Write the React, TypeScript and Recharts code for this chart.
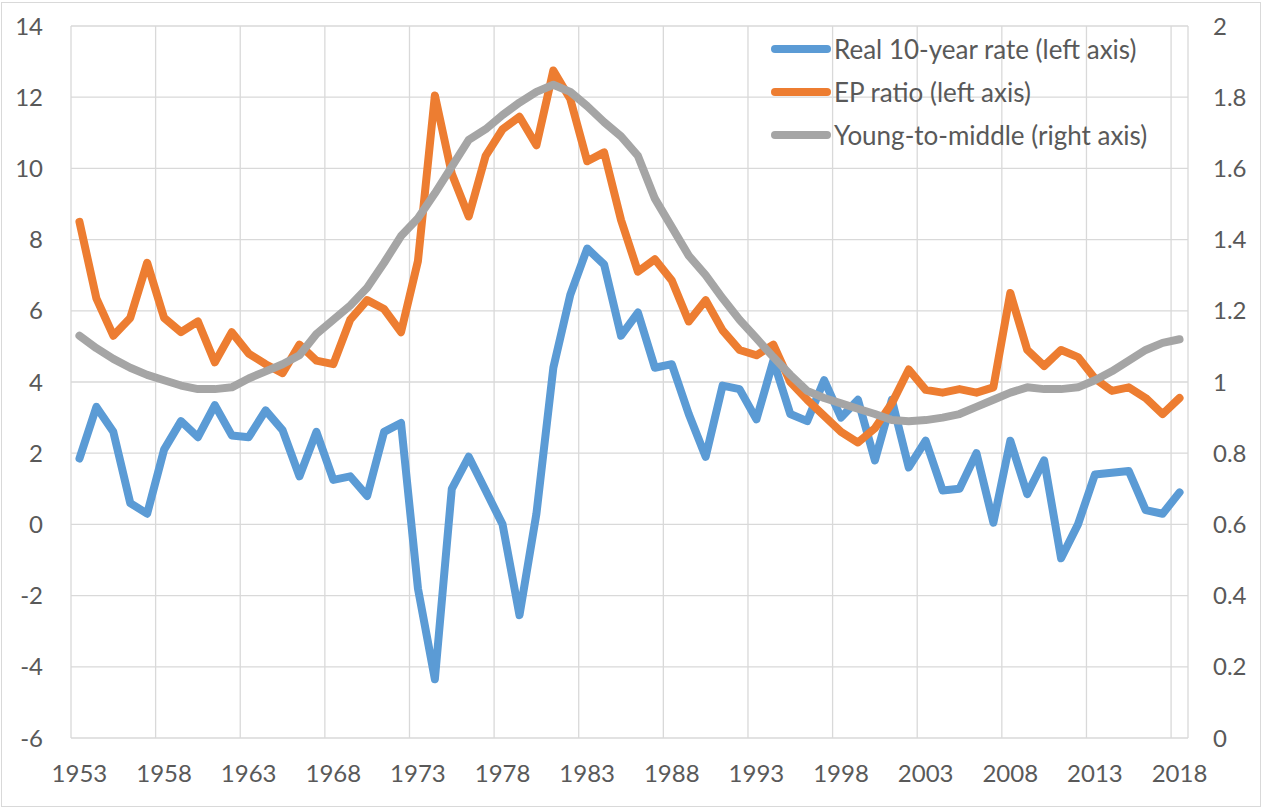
import { LineChart, Line, XAxis, YAxis, CartesianGrid, Legend } from 'recharts';

// annual values, 1953-2018
const years = Array.from({ length: 66 }, (_, i) => 1953 + i);

const realRate = [
  1.85, 3.3, 2.6, 0.6, 0.3, 2.1, 2.9, 2.45, 3.35, 2.5,
  2.45, 3.2, 2.65, 1.35, 2.6, 1.25, 1.35, 0.8, 2.6, 2.85,
  -1.8, -4.35, 1.0, 1.9, 0.95, 0.0, -2.55, 0.3, 4.4, 6.45,
  7.75, 7.3, 5.3, 5.95, 4.4, 4.5, 3.1, 1.9, 3.9, 3.8,
  2.95, 4.6, 3.1, 2.9, 4.05, 3.0, 3.5, 1.8, 3.5, 1.6,
  2.35, 0.95, 1.0, 2.0, 0.05, 2.35, 0.85, 1.8, -0.95, 0.0,
  1.4, 1.45, 1.5, 0.4, 0.3, 0.9,
];

const epRatio = [
  8.5, 6.35, 5.3, 5.8, 7.35, 5.8, 5.4, 5.7, 4.55, 5.4,
  4.8, 4.5, 4.25, 5.05, 4.6, 4.5, 5.75, 6.3, 6.05, 5.4,
  7.4, 12.05, 9.85, 8.65, 10.35, 11.1, 11.45, 10.65, 12.75, 11.95,
  10.2, 10.45, 8.55, 7.1, 7.45, 6.85, 5.7, 6.3, 5.45, 4.9,
  4.75, 5.05, 4.0, 3.5, 3.05, 2.6, 2.3, 2.7, 3.4, 4.35,
  3.78, 3.7, 3.8, 3.7, 3.85, 6.5, 4.9, 4.45, 4.9, 4.7,
  4.1, 3.75, 3.85, 3.55, 3.1, 3.55,
];

const youngToMiddle = [
  1.13, 1.095, 1.065, 1.04, 1.02, 1.005, 0.99, 0.98, 0.98, 0.985,
  1.01, 1.03, 1.05, 1.075, 1.135, 1.175, 1.215, 1.265, 1.335, 1.41,
  1.46, 1.53, 1.605, 1.68, 1.71, 1.75, 1.785, 1.815, 1.835, 1.815,
  1.775, 1.73, 1.69, 1.635, 1.515, 1.435, 1.355, 1.3, 1.235, 1.175,
  1.123, 1.07, 1.02, 0.975, 0.955, 0.94, 0.925, 0.91, 0.893, 0.89,
  0.893, 0.9, 0.91, 0.93, 0.95, 0.97, 0.985, 0.98, 0.98, 0.985,
  1.005, 1.03, 1.06, 1.09, 1.11, 1.12,
];

const seriesNames = ['Real 10-year rate (left axis)', 'EP ratio (left axis)', 'Young-to-middle (right axis)'];
const yearLabels = [1953, 1958, 1963, 1968, 1973, 1978, 1983, 1988, 1993, 1998, 2003, 2008, 2013, 2018];
const gridYears = yearLabels.map((y) => y - 0.5);
const leftTicks = [-6, -4, -2, 0, 2, 4, 6, 8, 10, 12, 14];
const rightTicks = [0, 0.2, 0.4, 0.6, 0.8, 1, 1.2, 1.4, 1.6, 1.8, 2];

const data = years.map((year, i) => ({
  year,
  real: realRate[i],
  ep: epRatio[i],
  ytm: youngToMiddle[i],
}));

const FONT = 'Lato, "Noto Sans", sans-serif';
const TEXT = '#595959';
const GRID = '#d9d9d9';

const tickStyle = { fill: TEXT, fontSize: 24, fontFamily: FONT };

function LegendBox(props: any) {
  const items = [...(props.payload || [])].sort(
    (a: any, b: any) => seriesNames.indexOf(a.value) - seriesNames.indexOf(b.value)
  );
  return (
    <div>
      {items.map((entry: any) => (
        <div key={entry.value} style={{ display: 'flex', alignItems: 'center', height: 43 }}>
          <svg width={60} height={12} style={{ display: 'block' }}>
            <line x1={4} y1={6} x2={56} y2={6} stroke={entry.color} strokeWidth={8} strokeLinecap="round" />
          </svg>
          <span style={{ marginLeft: 3, color: TEXT, fontSize: 26, fontFamily: FONT, whiteSpace: 'nowrap' }}>
            {entry.value}
          </span>
        </div>
      ))}
    </div>
  );
}

export default function App() {
  return (
    <div style={{ position: 'absolute', left: 0, top: 0, width: 1264, height: 808, background: '#fff' }}>
      <div
        style={{
          position: 'absolute',
          left: 1,
          top: 2,
          width: 1260,
          height: 805,
          border: `1px solid ${GRID}`,
          boxSizing: 'border-box',
        }}
      />
      <LineChart width={1264} height={808} data={data} margin={{ top: 26, right: 0, bottom: 0, left: 0 }}>
        <XAxis
          xAxisId="grid"
          type="number"
          dataKey="year"
          domain={[1952.5, 2018.5]}
          ticks={gridYears}
          interval={0}
          tick={() => <g />}
          tickSize={8}
          tickLine={{ stroke: GRID, strokeWidth: 1.3 }}
          axisLine={{ stroke: GRID, strokeWidth: 1.3 }}
          height={0}
        />
        <XAxis
          xAxisId="year"
          type="number"
          dataKey="year"
          domain={[1952.5, 2018.5]}
          ticks={yearLabels}
          interval={0}
          tick={tickStyle}
          tickLine={false}
          axisLine={false}
          tickMargin={21}
          height={70}
        />
        <YAxis
          yAxisId="left"
          domain={[-6, 14]}
          ticks={leftTicks}
          interval={0}
          tick={tickStyle}
          tickLine={false}
          axisLine={false}
          tickMargin={22}
          width={71}
        />
        <YAxis
          yAxisId="right"
          orientation="right"
          domain={[0, 2]}
          ticks={rightTicks}
          interval={0}
          tick={tickStyle}
          tickFormatter={(v: number) => String(Math.round(v * 10) / 10)}
          tickLine={false}
          axisLine={false}
          tickMargin={19}
          width={76}
        />
        <CartesianGrid xAxisId="grid" yAxisId="left" stroke={GRID} strokeWidth={1.3} />
        <Line
          xAxisId="year"
          yAxisId="left"
          type="linear"
          dataKey="real"
          name={seriesNames[0]}
          stroke="#5b9bd5"
          strokeWidth={8}
          strokeLinecap="round"
          strokeLinejoin="round"
          dot={false}
          isAnimationActive={false}
        />
        <Line
          xAxisId="year"
          yAxisId="left"
          type="linear"
          dataKey="ep"
          name={seriesNames[1]}
          stroke="#ed7d31"
          strokeWidth={8}
          strokeLinecap="round"
          strokeLinejoin="round"
          dot={false}
          isAnimationActive={false}
        />
        <Line
          xAxisId="year"
          yAxisId="right"
          type="linear"
          dataKey="ytm"
          name={seriesNames[2]}
          stroke="#a5a5a5"
          strokeWidth={8}
          strokeLinecap="round"
          strokeLinejoin="round"
          dot={false}
          isAnimationActive={false}
        />
        <Legend
          layout="vertical"
          align="center"
          verticalAlign="middle"
          content={<LegendBox />}
          wrapperStyle={{ left: 771, top: 27.5, width: 440, height: 130 }}
        />
      </LineChart>
    </div>
  );
}
